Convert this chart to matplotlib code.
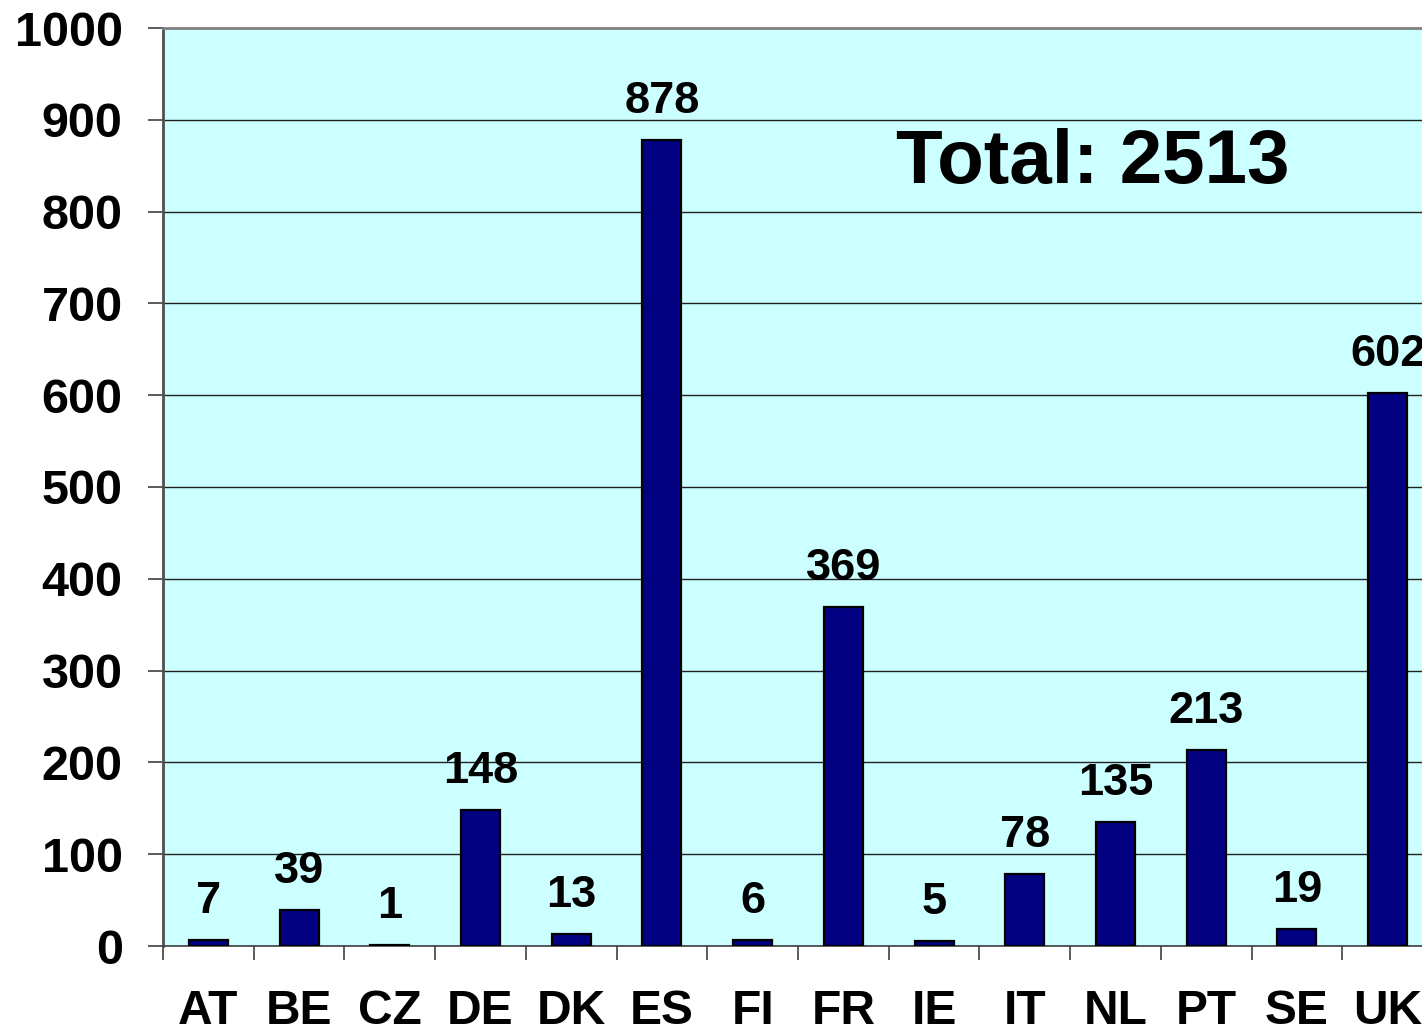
import numpy as np
import matplotlib
matplotlib.use("Agg")
import matplotlib.pyplot as plt

plt.rcParams['font.family'] = ['Liberation Sans', 'DejaVu Sans']
plt.rcParams['font.weight'] = 'bold'

# datos
paises = ["AT", "BE", "CZ", "DE", "DK", "ES", "FI", "FR", "IE", "IT", "NL", "PT", "SE", "UK"]
valores = [7, 39, 1, 148, 13, 878, 6, 369, 5, 78, 135, 213, 19, 602]
total_txt = "Total: 2513"

fig = plt.figure(figsize=(14.22, 10.29), dpi=100)
# el eje sale un poco por la derecha, como en el original
ax = fig.add_axes([163 / 1422, 83 / 1029, 1270 / 1422, 918 / 1029])
ax.set_facecolor('#CCFFFF')

x = np.arange(len(paises))
barras = ax.bar(x, valores, width=0.43, color='#000080', edgecolor='black', linewidth=1.6, zorder=3)

for xi, v in zip(x, valores):
    ax.annotate(str(v), (xi, v), xytext=(0, 13), textcoords='offset points',
                ha='center', va='bottom', fontsize=32.5, fontweight='bold', zorder=4)

ax.text(0.732, 0.852, total_txt, transform=ax.transAxes, ha='center', va='center',
        fontsize=55, fontweight='bold')

ax.set_xlim(-0.5, len(paises) - 0.5)
ax.set_ylim(0, 1000)
ax.set_yticks(np.arange(0, 1001, 100))
ax.yaxis.grid(True, color='#202020', linewidth=1.0, zorder=1)
ax.set_axisbelow(True)

# etiquetas en el centro, marcas entre categorias
ax.set_xticks(x)
ax.set_xticklabels(paises)
ax.set_xticks(np.arange(-0.5, len(paises), 1), minor=True)
ax.tick_params(axis='x', which='major', length=0, pad=31, labelsize=34.5)
ax.tick_params(axis='x', which='minor', length=10, width=1.2, color='#404040', direction='out')
ax.tick_params(axis='y', length=11, width=1.2, color='#404040', pad=18, labelsize=35)

for lab in ax.get_xticklabels() + ax.get_yticklabels():
    lab.set_fontweight('bold')

ax.spines['top'].set_color('#808080')
ax.spines['top'].set_linewidth(2)
ax.spines['left'].set_color('#505050')
ax.spines['left'].set_linewidth(2)
ax.spines['bottom'].set_color('#404040')
ax.spines['bottom'].set_linewidth(1.2)
ax.spines['right'].set_visible(False)

fig.savefig("out.png", dpi=100)
